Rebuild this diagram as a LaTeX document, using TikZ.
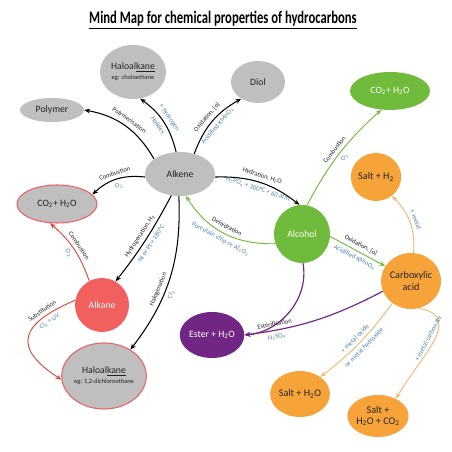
\documentclass[tikz,border=0pt]{standalone}
\usepackage{fontspec}
\setmainfont{Carlito}
\newfontfamily\titlefont[FakeStretch=0.72]{Carlito}
\usetikzlibrary{shapes.geometric,arrows.meta}
\definecolor{mmgray}{RGB}{191,191,191}
\definecolor{mmtext}{RGB}{35,35,35}
\definecolor{mmgreen}{RGB}{112,186,60}
\definecolor{mmred}{RGB}{242,95,95}
\definecolor{mmredline}{RGB}{222,70,60}
\definecolor{mmorange}{RGB}{246,164,58}
\definecolor{mmorangeline}{RGB}{240,185,110}
\definecolor{mmpurple}{RGB}{113,38,132}
\definecolor{mmblue}{RGB}{80,135,175}
\newcommand{\sub}[1]{\textsubscript{#1}}
\begin{document}
\begin{tikzpicture}[x=0.03cm, y=0.03cm, >={Stealth[length=5pt,width=4pt]},
    bubble/.style={ellipse, inner sep=0pt, align=center, font=\fontsize{8.3}{9.5}\selectfont},
    greybub/.style={bubble, fill=mmgray, text=mmtext},
    redbub/.style={greybub, draw=mmred, line width=0.9pt},
    greenbub/.style={bubble, fill=mmgreen, text=white},
    orangebub/.style={bubble, fill=mmorange, text=mmtext, font=\fontsize{8.7}{10}\selectfont},
    reac/.style={font=\fontsize{5.6}{6}\selectfont, text=mmtext, sloped, above, inner sep=3pt},
    cond/.style={font=\fontsize{5.8}{6}\selectfont, text=mmblue, sloped, below, inner sep=3pt},
    blk/.style={->, line width=0.9pt, black},
    grn/.style={->, line width=0.8pt, mmgreen},
    rd/.style={->, line width=0.8pt, mmredline},
    org/.style={->, line width=0.8pt, mmorangeline},
    prp/.style={->, line width=1pt, mmpurple}]
    \useasboundingbox (0,0) rectangle (452,452);
    \node[font=\titlefont\bfseries\fontsize{15}{16}\selectfont] (title) at (223,432) {\underline{Mind Map for chemical properties of hydrocarbons}};
    \node[greybub, minimum width=1.98cm, minimum height=1.62cm] (haloTop) at (133,380) {Haloal\underline{kane}\\[-1pt]{\fontsize{5.5}{6}\selectfont eg: choloethane}};
    \node[greybub, minimum width=1.62cm, minimum height=1.26cm] (diol) at (258,370) {Diol};
    \node[greybub, minimum width=1.92cm, minimum height=0.72cm] (polymer) at (52,342) {Polymer};
    \node[greenbub, minimum width=2.4cm, minimum height=1.14cm] (co2Green) at (390,361) {CO\sub{2}+ H\sub{2}O};
    \node[greybub, minimum width=2.1cm, minimum height=1.32cm] (alkene) at (180,278) {Alkene};
    \node[redbub, minimum width=2.4cm, minimum height=1.14cm] (co2Red) at (57,248) {CO\sub{2}+ H\sub{2}O};
    \node[greenbub, minimum width=1.68cm, minimum height=1.74cm] (alcohol) at (302,218) {Alcohol};
    \node[orangebub, minimum width=1.38cm, minimum height=1.44cm] (saltHtwo) at (376,275) {Salt + H\sub{2}};
    \node[bubble, fill=mmred, text=white, minimum size=1.62cm] (alkane) at (102,147) {Alkane};
    \node[orangebub, minimum size=1.68cm] (carboxylic) at (411,171) {Carboxylic\\acid};
    \node[bubble, fill=mmpurple, text=white, minimum width=1.86cm, minimum height=1.38cm] (ester) at (212,117) {Ester + H\sub{2}O};
    \node[redbub, minimum width=2.1cm, minimum height=1.98cm] (haloBot) at (104,76) {Haloal\underline{kane}\\[-1pt]{\fontsize{5.5}{6}\selectfont eg: 1,2-dichloroethane}};
    \node[orangebub, minimum width=1.68cm, minimum height=1.38cm] (saltWater) at (300,58) {Salt + H\sub{2}O};
    \node[orangebub, minimum width=1.68cm, minimum height=1.26cm] (saltCarb) at (378,36) {Salt +\\H\sub{2}O + CO\sub{2}};

    \draw[blk] (alkene.150) to[bend right=25] node[reac] {Polymerisation} (polymer.east);
    \draw[blk] (alkene.100) to[bend right=20] node[cond, above] {+ hydrogen} node[cond] {Halides} (haloTop.-75);
    \draw[blk] (alkene.55) to[bend left=20] node[reac] {Oxidation, [o]} node[cond] {Acidified KMnO\sub{4}} (diol.225);
    \draw[blk] (alkene.185) to[bend right=25] node[reac] {Combustion} node[cond] {O\sub{2}} (co2Red.15);
    \draw[blk] (alkene.-5) to[bend left=20] node[reac] {Hydration, H\sub{2}O} node[cond] {H\sub{3}PO\sub{4} + 300°C + 60 atm} (alcohol.95);
    \draw[blk] (alkene.-112) to[bend left=5] node[reac] {Hydrogenation, H\sub{2}} node[cond] {Ni or Pt + 180°C} (alkane.60);
    \draw[blk] (alkene.-93) to[bend left=20] node[reac, pos=0.6] {Halogenation} node[cond, pos=0.6] {Cl\sub{2}} (haloBot.45);

    \draw[rd] (alkane.118) to[bend right=15] node[reac] {Combustion} node[cond] {O\sub{2}} (co2Red.-110);
    \draw[rd] (alkane.170) to[out=203, in=147, looseness=1.9] node[reac, pos=0.22] {Substitution} node[cond, pos=0.22] {Cl\sub{2} + UV} (haloBot.185);

    \draw[grn] (alcohol.80) to[bend left=10] node[reac] {Combustion} node[cond] {O\sub{2}} (co2Green.-115);
    \draw[grn] (alcohol.200) to[bend left=30] node[reac] {Dehydration} node[cond] {Porcelain chip or Al\sub{2}O\sub{3}} (alkene.-75);
    \draw[grn] (alcohol.-5) -- node[reac] {Oxidation, [o]} node[cond] {Acidified KMnO\sub{4}} (carboxylic.150);

    \draw[prp] (alcohol.-88) to[out=-80, in=5] (ester.east);
    \draw[prp] (carboxylic.200) to[bend left=10] node[reac, pos=0.8] {Esterification} node[cond, pos=0.8] {H\sub{2}SO\sub{4}} (ester.east);

    \draw[org] (carboxylic.85) to[out=85, in=-45] node[cond, above] {+ metal} (saltHtwo.-50);
    \draw[org] (carboxylic.-130) to[bend left=8] node[cond, above] {+ metal oxide} node[cond] {or metal hydroxide} (saltWater.40);
    \draw[org] (carboxylic.-74) to[out=-10, in=60, looseness=1.3] node[cond, above] {+ metal carbonate} (saltCarb.44);
\end{tikzpicture}
\end{document}
